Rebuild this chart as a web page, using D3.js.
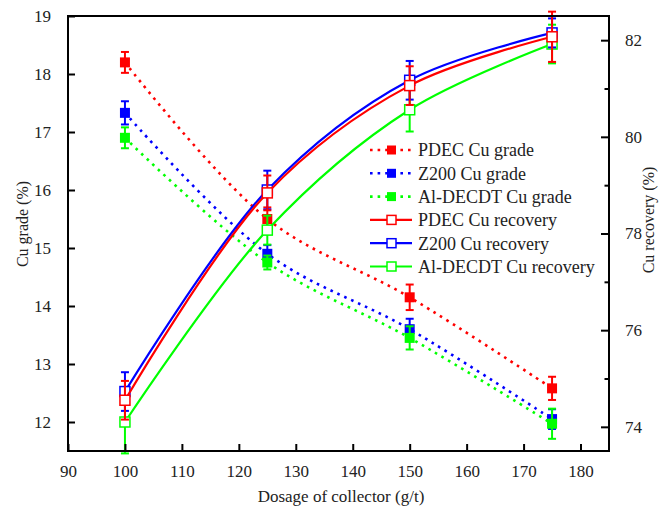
<!DOCTYPE html>
<html>
<head>
<meta charset="utf-8">
<script src="https://cdn.jsdelivr.net/npm/d3@7"></script>
<style>
    body { margin: 0; background: #fff; }
    svg { display: block; font-family: "Liberation Serif", "Times New Roman", serif; }
</style>
</head>
<body>
<svg id="chart" width="659" height="507"></svg>
<script>
const dosage = [100, 125, 150, 175];

// Cu grade (%), left axis
const gradePDEC = [18.2, 15.5, 14.15, 12.58];
const gradeZ200 = [17.33, 14.9, 13.6, 12.05];
const gradeAl = [16.9, 14.75, 13.45, 11.97];
const gradePDECErr = [0.18, 0.2, 0.22, 0.2];
const gradeZ200Err = [0.2, 0.15, 0.18, 0.17];
const gradeAlErr = [0.18, 0.12, 0.2, 0.26];

// Cu recovery (%), right axis
const recPDEC = [74.55, 78.84, 81.06, 82.07];
const recZ200 = [74.73, 78.9, 81.17, 82.15];
const recAl = [74.1, 78.07, 80.56, 81.92];
const recPDECErr = [0.4, 0.36, 0.4, 0.52];
const recZ200Err = [0.4, 0.4, 0.4, 0.3];
const recAlErr = [0.65, 0.3, 0.45, 0.4];

const xTicks = [90, 100, 110, 120, 130, 140, 150, 160, 170, 180];
const gradeTicks = [12, 13, 14, 15, 16, 17, 18, 19];
const recTicks = [74, 76, 78, 80, 82];
const recMinorTicks = [75, 77, 79, 81];

const margin = {left: 68, right: 609, top: 16, bottom: 451};

let svg = d3.select('#chart');

let x = d3.scaleLinear().domain([90, 185]).range([margin.left, margin.right]);
let yGrade = d3.scaleLinear().domain([11.5, 19]).range([margin.bottom, margin.top]);
let yRec = d3.scaleLinear().domain([73.5, 82.5]).range([margin.bottom, margin.top]);

const series = [
    {name: 'PDEC Cu grade', values: gradePDEC, err: gradePDECErr, color: '#ff0000', y: yGrade, grade: true},
    {name: 'Z200 Cu grade', values: gradeZ200, err: gradeZ200Err, color: '#0000ff', y: yGrade, grade: true},
    {name: 'Al-DECDT Cu grade', values: gradeAl, err: gradeAlErr, color: '#00ff00', y: yGrade, grade: true},
    {name: 'PDEC Cu recovery', values: recPDEC, err: recPDECErr, color: '#ff0000', y: yRec, grade: false},
    {name: 'Z200 Cu recovery', values: recZ200, err: recZ200Err, color: '#0000ff', y: yRec, grade: false},
    {name: 'Al-DECDT Cu recovery', values: recAl, err: recAlErr, color: '#00ff00', y: yRec, grade: false}
];

// draw order: grades, then recoveries with PDEC on top
const drawOrder = [0, 1, 2, 5, 4, 3];

drawOrder.forEach(function (i) {
    let s = series[i];
    let pts = dosage.map((d, j) => ({x: d, v: s.values[j], e: s.err[j]}));
    let g = svg.append('g');

    let line = d3.line()
            .x(d => x(d.x))
            .y(d => s.y(d.v))
            .curve(d3.curveCatmullRom.alpha(0.5));

    g.append('path')
            .datum(pts)
            .attr('d', line)
            .attr('fill', 'none')
            .attr('stroke', s.color)
            .attr('stroke-width', s.grade ? 2.6 : 2.2)
            .attr('stroke-dasharray', s.grade ? '2.6,5' : null);

    // error bars
    pts.forEach(function (p) {
        let cx = x(p.x), y1 = s.y(p.v + p.e), y2 = s.y(p.v - p.e);
        g.append('line').attr('x1', cx).attr('x2', cx).attr('y1', y1).attr('y2', y2);
        g.append('line').attr('x1', cx - 4).attr('x2', cx + 4).attr('y1', y1).attr('y2', y1);
        g.append('line').attr('x1', cx - 4).attr('x2', cx + 4).attr('y1', y2).attr('y2', y2);
    });
    g.selectAll('line').attr('stroke', s.color).attr('stroke-width', 2);

    g.selectAll('rect')
            .data(pts)
            .join('rect')
            .attr('x', d => x(d.x) - 5)
            .attr('y', d => s.y(d.v) - 5)
            .attr('width', 10)
            .attr('height', 10)
            .attr('fill', s.grade ? s.color : '#fff')
            .attr('stroke', s.color)
            .attr('stroke-width', s.grade ? 0 : 1.5);
});

// frame
svg.append('rect')
        .attr('x', margin.left)
        .attr('y', margin.top)
        .attr('width', margin.right - margin.left)
        .attr('height', margin.bottom - margin.top)
        .attr('fill', 'none')
        .attr('stroke', '#000')
        .attr('stroke-width', 2);

// axes with inward ticks
svg.append('g')
        .attr('transform', `translate(0,${margin.bottom})`)
        .call(d3.axisBottom(x).tickValues(xTicks).tickSize(-7).tickPadding(14).tickFormat(d3.format('d')));

svg.append('g')
        .attr('transform', `translate(${margin.left},0)`)
        .call(d3.axisLeft(yGrade).tickValues(gradeTicks).tickSize(-7).tickPadding(17).tickFormat(d3.format('d')));

svg.append('g')
        .attr('transform', `translate(${margin.right},0)`)
        .call(d3.axisRight(yRec).tickValues(recTicks).tickSize(-8).tickPadding(16).tickFormat(d3.format('d')));

svg.append('g')
        .attr('transform', `translate(${margin.right},0)`)
        .call(d3.axisRight(yRec).tickValues(recMinorTicks).tickSize(-4.5).tickFormat(''));

svg.selectAll('.domain').remove();
svg.selectAll('.tick line').attr('stroke', '#000').attr('stroke-width', 2);
svg.selectAll('.tick text')
        .attr('font-family', '"Liberation Serif", serif')
        .attr('font-size', 17)
        .attr('fill', '#222');

// axis titles
svg.append('text')
        .attr('x', 341)
        .attr('y', 502)
        .attr('text-anchor', 'middle')
        .attr('font-size', 17)
        .attr('fill', '#222')
        .text('Dosage of collector (g/t)');

svg.append('text')
        .attr('transform', 'translate(28,224) rotate(-90)')
        .attr('text-anchor', 'middle')
        .attr('font-size', 16)
        .attr('fill', '#222')
        .text('Cu grade (%)');

svg.append('text')
        .attr('transform', 'translate(654,220) rotate(-90)')
        .attr('text-anchor', 'middle')
        .attr('font-size', 16)
        .attr('fill', '#222')
        .text('Cu recovery (%)');

// legend
let legend = svg.append('g').attr('transform', 'translate(370,150)');
series.forEach(function (s, i) {
    let row = legend.append('g').attr('transform', `translate(0,${i * 23.3})`);
    row.append('line')
            .attr('x1', 0).attr('x2', 42)
            .attr('stroke', s.color)
            .attr('stroke-width', s.grade ? 2.6 : 2.2)
            .attr('stroke-dasharray', s.grade ? '2.6,5' : null);
    row.append('rect')
            .attr('x', 17).attr('y', -4.5)
            .attr('width', 9).attr('height', 9)
            .attr('fill', s.grade ? s.color : '#fff')
            .attr('stroke', s.color)
            .attr('stroke-width', s.grade ? 0 : 1.5);
    row.append('text')
            .attr('x', 48)
            .attr('dy', '0.35em')
            .attr('font-size', 18)
            .attr('fill', '#222')
            .text(s.name);
});
</script>
</body>
</html>
